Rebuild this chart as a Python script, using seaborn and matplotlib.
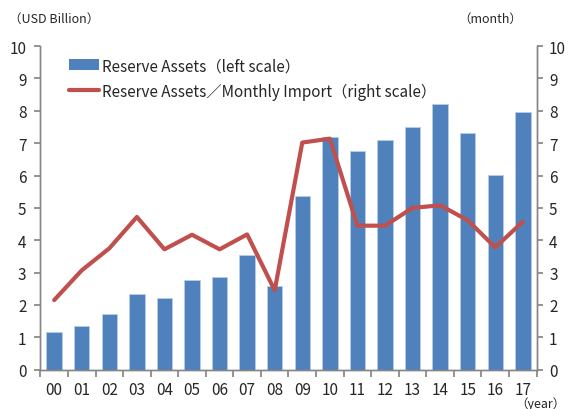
import numpy as np
import pandas as pd
import seaborn as sns
import matplotlib
matplotlib.use('Agg')
import matplotlib.pyplot as plt
from matplotlib.lines import Line2D
from matplotlib.patches import Patch

years = ['00', '01', '02', '03', '04', '05', '06', '07', '08',
         '09', '10', '11', '12', '13', '14', '15', '16', '17']
reserve_assets = [1.15, 1.36, 1.72, 2.33, 2.22, 2.76, 2.86, 3.53, 2.58,
                  5.37, 7.2, 6.76, 7.11, 7.49, 8.2, 7.32, 6.03, 7.97]
import_months = [2.15, 3.07, 3.75, 4.72, 3.72, 4.17, 3.72, 4.18, 2.45,
                 7.02, 7.14, 4.45, 4.45, 5.0, 5.08, 4.62, 3.78, 4.57]

sns.set_theme(style='white')
plt.rcParams['font.family'] = ['Noto Sans CJK JP', 'DejaVu Sans']

bar_color = '#4F81BD'
line_color = '#C0504D'
spine_color = '#868686'

df = pd.DataFrame({'year': years, 'reserve': reserve_assets, 'ratio': import_months})

fig = plt.figure(figsize=(5.69, 4.10), dpi=100)
ax = fig.add_axes([0.071, 0.096, 0.872, 0.789])
sns.barplot(data=df, x='year', y='reserve', color=bar_color, width=0.56,
            saturation=1, edgecolor='#B9CDE5', linewidth=0.6, ax=ax)

ax2 = ax.twinx()
sns.lineplot(x=np.arange(len(years)), y=df['ratio'], color=line_color,
             linewidth=3.0, ax=ax2)

for a in (ax, ax2):
    a.set_ylim(0, 10)
    a.set_yticks(range(0, 11))
    a.set_ylabel('')
    a.set_xlabel('')
    a.spines['top'].set_visible(False)
    for s in a.spines.values():
        s.set_color(spine_color)
        s.set_linewidth(1.0)
ax.set_xlim(-0.5, len(years) - 0.5)

ax.tick_params(axis='y', left=True, length=4, color=spine_color, labelsize=11, pad=6)
ax2.tick_params(axis='y', right=True, length=4, color=spine_color, labelsize=11, pad=5)
ax.spines['right'].set_visible(True)

# x ticks at category boundaries, labels at centres
ax.set_xticks(np.arange(-0.5, len(years), 1), minor=False)
ax.set_xticklabels([])
ax.set_xticks(np.arange(len(years)), minor=True)
ax.set_xticklabels(years, minor=True)
ax.tick_params(axis='x', which='major', bottom=True, length=5, color=spine_color)
ax.tick_params(axis='x', which='minor', bottom=False, length=0, labelsize=11, pad=8)

fig.text(0.015, 0.945, '（USD Billion）', fontsize=9)
fig.text(0.805, 0.945, '（month）', fontsize=9)
fig.text(0.905, 0.005, '（year）', fontsize=9)

handles = [Patch(facecolor=bar_color, edgecolor='none'),
           Line2D([0], [0], color=line_color, linewidth=3.0)]
labels = ['Reserve Assets（left scale）', 'Reserve Assets／Monthly Import（right scale）']
ax2.legend(handles, labels, loc='upper left', bbox_to_anchor=(0.045, 0.985),
           frameon=False, fontsize=11, handlelength=2.0, handletextpad=0.2,
           labelspacing=0.55, borderaxespad=0)

fig.savefig('out.png', dpi=100)
